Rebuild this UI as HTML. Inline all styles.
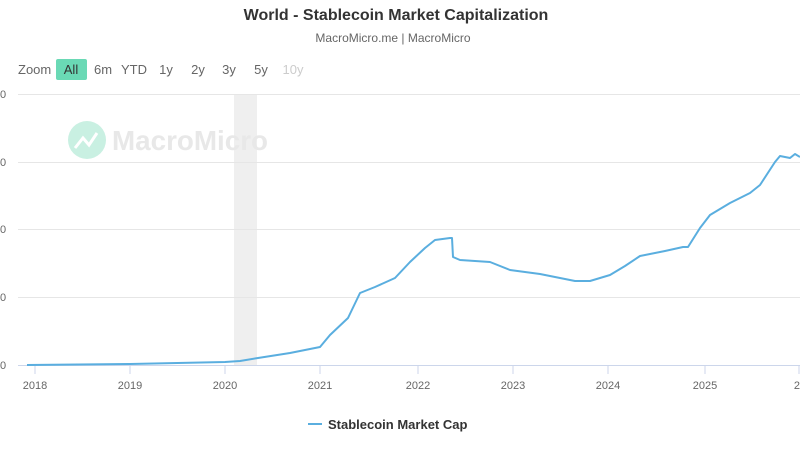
<!DOCTYPE html>
<html><head><meta charset="utf-8"><style>
body{margin:0;background:#fff;width:800px;height:445px;overflow:hidden;font-family:"Liberation Sans",sans-serif}
</style></head><body>
<svg width="800" height="445" xmlns="http://www.w3.org/2000/svg" font-family="Liberation Sans, sans-serif">
<text x="396" y="20" text-anchor="middle" font-size="16" font-weight="bold" fill="#333">World - Stablecoin Market Capitalization</text>
<text x="393" y="42" text-anchor="middle" font-size="12" fill="#666">MacroMicro.me | MacroMicro</text>
<text x="18" y="74" font-size="13" fill="#666">Zoom</text>
<rect x="56" y="59" width="31" height="21" rx="2" fill="#6ad9b5"/>
<text x="71" y="74" font-size="13" fill="#333" text-anchor="middle">All</text>
<g font-size="13" fill="#666" text-anchor="middle">
<text x="103" y="74">6m</text><text x="134" y="74">YTD</text><text x="166" y="74">1y</text><text x="198" y="74">2y</text><text x="229" y="74">3y</text><text x="261" y="74">5y</text><text x="293" y="74" fill="#ccc">10y</text></g>
<rect x="234" y="94" width="23" height="271" fill="#efefef"/>
<g stroke="#e6e6e6" stroke-width="1">
<line x1="18" y1="94.5" x2="800" y2="94.5"/><line x1="18" y1="162.5" x2="800" y2="162.5"/><line x1="18" y1="229.5" x2="800" y2="229.5"/><line x1="18" y1="297.5" x2="800" y2="297.5"/></g>
<line x1="18" y1="365.5" x2="800" y2="365.5" stroke="#ccd6eb"/>
<g stroke="#ccd6eb"><line x1="35" y1="365" x2="35" y2="374"/><line x1="130" y1="365" x2="130" y2="374"/><line x1="225" y1="365" x2="225" y2="374"/><line x1="320" y1="365" x2="320" y2="374"/><line x1="418" y1="365" x2="418" y2="374"/><line x1="513" y1="365" x2="513" y2="374"/><line x1="608" y1="365" x2="608" y2="374"/><line x1="705" y1="365" x2="705" y2="374"/><line x1="799" y1="365" x2="799" y2="374"/></g>
<g font-size="11" fill="#666"><text x="0" y="98">0</text><text x="0" y="166">0</text><text x="0" y="233">0</text><text x="0" y="301">0</text><text x="0" y="369">0</text></g>
<g font-size="11" fill="#666" text-anchor="middle"><text x="35" y="389">2018</text><text x="130" y="389">2019</text><text x="225" y="389">2020</text><text x="320" y="389">2021</text><text x="418" y="389">2022</text><text x="513" y="389">2023</text><text x="608" y="389">2024</text><text x="705" y="389">2025</text><text x="800" y="389">20</text></g>
<circle cx="87" cy="140" r="19" fill="#c9f0e2"/>
<path d="M75 148 L83 138 L89 145 L97 133" stroke="#fff" stroke-width="3" fill="none"/>
<text x="112" y="150" font-size="28" font-weight="bold" fill="#e8e8e8" textLength="156" lengthAdjust="spacingAndGlyphs">MacroMicro</text>
<polyline fill="none" stroke="#5aaedf" stroke-width="2" stroke-linejoin="round" points="27,365 130,364 225,362 240,361 258,358 290,353 320,347 330,335 348,318 360,293 375,287 395,278 410,262 425,248 435,240 450,238 452,238 453,257 460,260 490,262 510,270 540,274 575,281 590,281 610,275 625,266 640,256 665,251 683,247 688,247 700,228 710,215 730,203 750,193 760,185 775,162 780,156 790,158 795,154 800,157"/>
<line x1="308" y1="424" x2="322" y2="424" stroke="#5aaedf" stroke-width="2"/>
<text x="328" y="429" font-size="13" font-weight="bold" fill="#333">Stablecoin Market Cap</text>
</svg>
</body></html>
